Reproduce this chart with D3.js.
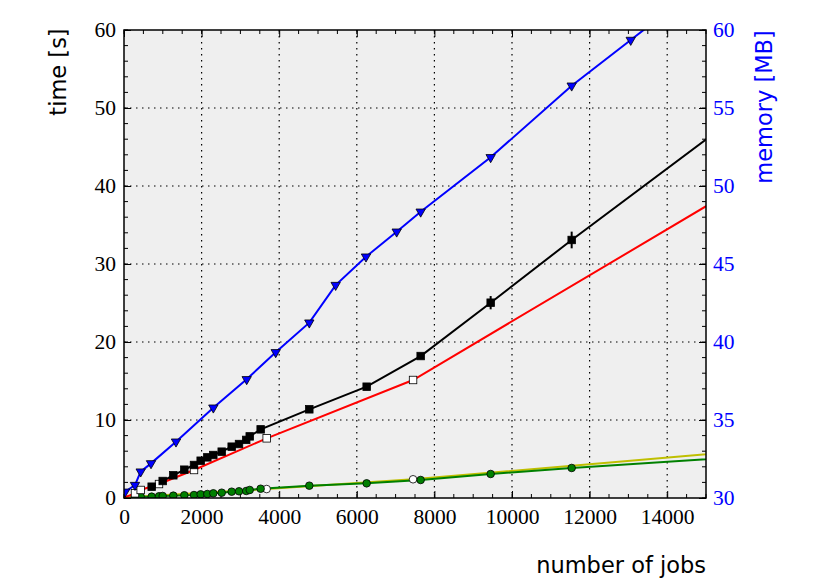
<!DOCTYPE html>
<html>
<head>
<meta charset="utf-8">
<script src="https://cdn.jsdelivr.net/npm/d3@7"></script>
<style>
  body { margin: 0; background: #fff; }
  .tick-label { font-family: "Liberation Serif", "DejaVu Serif", serif; font-size: 21.5px; }
  .axis-title { font-family: "DejaVu Sans", sans-serif; font-size: 22.5px; }
</style>
</head>
<body>
<div id="chart"></div>
<script>
// measured time (black squares)
var measJobs = [713, 997, 1271, 1555, 1804, 1976, 2148, 2302, 2518, 2775, 2964, 3150, 3240, 3522, 4776, 6254, 7646, 9450, 11538, 16000];
var measTime = [1.45, 2.18, 2.91, 3.63, 4.23, 4.78, 5.21, 5.51, 5.94, 6.58, 6.92, 7.45, 7.9, 8.8, 11.37, 14.27, 18.2, 25.04, 33.08, 49.7];
var measErr  = [0, 0, 0, 0, 0, 0, 0, 0, 0, 0, 0, 0, 0, 0, 0.1, 0.15, 0.3, 0.85, 1.07, 0];

// model time (red line, open squares)
var modelJobs = [0, 283, 430, 902, 1804, 3677, 7450, 16000];
var modelTime = [0.05, 0.6, 1.03, 1.79, 3.59, 7.65, 15.13, 40.35];
var modelMark = [false, true, true, true, true, true, true, false];

// small task time (green circles)
var smallJobs = [283, 430, 713, 902, 997, 1271, 1555, 1804, 1976, 2148, 2302, 2518, 2775, 2964, 3150, 3240, 3522, 4776, 6254, 7646, 9450, 11538, 16000];
var smallTime = [0.17, 0.17, 0.17, 0.22, 0.26, 0.3, 0.35, 0.38, 0.47, 0.51, 0.6, 0.68, 0.81, 0.86, 0.9, 1.03, 1.19, 1.58, 1.88, 2.31, 3.08, 3.85, 5.28];

// small task model (yellow line, open circles)
var smallModelJobs = [0, 3677, 7450, 16000];
var smallModelTime = [0.05, 1.15, 2.4, 6.02];
var smallModelMark = [false, true, true, false];

// memory (blue triangles, right axis)
var memJobs = [30, 283, 430, 696, 1340, 2302, 3162, 3910, 4776, 5455, 6237, 7028, 7646, 9450, 11538, 13060, 15000];
var memMB   = [30.4, 30.83, 31.69, 32.22, 33.61, 35.79, 37.61, 39.34, 41.24, 43.65, 45.47, 47.07, 48.35, 51.84, 56.43, 59.36, 63.1];

var xTicks = [0, 2000, 4000, 6000, 8000, 10000, 12000, 14000];
var yTicks = [0, 10, 20, 30, 40, 50, 60];
var memTicks = [30, 35, 40, 45, 50, 55, 60];

var width = 830, height = 587;
var margin = {left: 124, right: 124, top: 30, bottom: 89};
var pw = width - margin.left - margin.right;
var ph = height - margin.top - margin.bottom;

var svg = d3.select('#chart').append('svg')
  .attr('width', width)
  .attr('height', height);

var x = d3.scaleLinear().domain([0, 15000]).range([0, pw]);
var y = d3.scaleLinear().domain([0, 60]).range([ph, 0]);
var y2 = d3.scaleLinear().domain([30, 60]).range([ph, 0]);

var g = svg.append('g').attr('transform', 'translate(' + margin.left + ',' + margin.top + ')');

g.append('defs').append('clipPath').attr('id', 'plotClip')
  .append('rect').attr('width', pw).attr('height', ph);

// background
g.append('rect').attr('width', pw).attr('height', ph).attr('fill', '#efefef');

// grid
var grid = g.append('g').attr('stroke', '#000').attr('stroke-width', 1.2).attr('stroke-dasharray', '1.5,4.5');
grid.selectAll('.gx').data(xTicks.filter(function(d){ return d > 0; }))
  .enter().append('line')
  .attr('x1', function(d){ return x(d); }).attr('x2', function(d){ return x(d); })
  .attr('y1', 0).attr('y2', ph);
grid.selectAll('.gy').data(yTicks.filter(function(d){ return d > 0 && d < 60; }))
  .enter().append('line')
  .attr('y1', function(d){ return y(d); }).attr('y2', function(d){ return y(d); })
  .attr('x1', 0).attr('x2', pw);

// axes, ticks inward on all sides
var minorX = d3.range(0, 15001, 500);
var minorY = d3.range(0, 61, 2);
var axB = d3.axisBottom(x).tickValues(xTicks).tickSize(-7).tickPadding(11).tickFormat(d3.format('d'));
var axT = d3.axisTop(x).tickValues(xTicks).tickSize(-7).tickFormat('');
var axL = d3.axisLeft(y).tickValues(yTicks).tickSize(-7).tickPadding(8);
var axR = d3.axisRight(y2).tickValues(memTicks).tickSize(-7).tickPadding(7);

function styleAxis(sel, color) {
  sel.select('.domain').remove();
  sel.selectAll('.tick line').attr('stroke', '#000').attr('stroke-width', 1);
  sel.selectAll('.tick text').attr('class', 'tick-label').attr('fill', color || '#000');
}

function minor(sel, scale, vals, orient) {
  sel.selectAll('.minor').data(vals).enter().append('line')
    .attr('stroke', '#000').attr('stroke-width', 1)
    .attr('x1', function(d){ return orient === 'h' ? scale(d) : 0; })
    .attr('x2', function(d){ return orient === 'h' ? scale(d) : 0; })
    .attr('y1', function(d){ return orient === 'v' ? scale(d) : 0; })
    .attr('y2', function(d){ return orient === 'v' ? scale(d) : 0; })
    .each(function() {
      var l = d3.select(this);
      if (orient === 'h') l.attr('y2', sel.attr('data-dir') * 4);
      else l.attr('x2', sel.attr('data-dir') * 4);
    });
}

var gB = g.append('g').attr('transform', 'translate(0,' + ph + ')').call(axB);
styleAxis(gB);
gB.selectAll('.tick text').attr('dy', '0.71em');
var gT = g.append('g').call(axT);
styleAxis(gT);
var gL = g.append('g').call(axL);
styleAxis(gL);
var gR = g.append('g').attr('transform', 'translate(' + pw + ',0)').call(axR);
styleAxis(gR, '#0000ff');

var mB = g.append('g').attr('transform', 'translate(0,' + ph + ')').attr('data-dir', -1);
minor(mB, x, minorX, 'h');
var mT = g.append('g').attr('data-dir', 1);
minor(mT, x, minorX, 'h');
var mL = g.append('g').attr('data-dir', 1);
minor(mL, y, minorY, 'v');
var mR = g.append('g').attr('transform', 'translate(' + pw + ',0)').attr('data-dir', -1);
minor(mR, y, minorY, 'v');

// data layers
var plot = g.append('g').attr('clip-path', 'url(#plotClip)');

function zip(xs, ys) {
  return xs.map(function(d, i){ return {x: d, y: ys[i], i: i}; });
}

var lineT = d3.line().x(function(d){ return x(d.x); }).y(function(d){ return y(d.y); });
var lineM = d3.line().x(function(d){ return x(d.x); }).y(function(d){ return y2(d.y); });

var smallModel = zip(smallModelJobs, smallModelTime);
var small = zip(smallJobs, smallTime);
var model = zip(modelJobs, modelTime);
var meas = zip(measJobs, measTime);
var mem = zip(memJobs, memMB);

// yellow model
plot.append('path').datum(smallModel).attr('d', lineT)
  .attr('fill', 'none').attr('stroke', '#bfbf00').attr('stroke-width', 2);
// green
plot.append('path').datum(small).attr('d', lineT)
  .attr('fill', 'none').attr('stroke', '#008000').attr('stroke-width', 2);
// red model
plot.append('path').datum(model).attr('d', lineT)
  .attr('fill', 'none').attr('stroke', '#ff0000').attr('stroke-width', 2);
// black measured
plot.append('path').datum(meas).attr('d', lineT)
  .attr('fill', 'none').attr('stroke', '#000').attr('stroke-width', 2);
// blue memory
plot.append('path').datum(mem).attr('d', lineM)
  .attr('fill', 'none').attr('stroke', '#0000ff').attr('stroke-width', 2);

// error bars
plot.selectAll('.err').data(meas.filter(function(d){ return measErr[d.i] > 0; }))
  .enter().append('line')
  .attr('x1', function(d){ return x(d.x); }).attr('x2', function(d){ return x(d.x); })
  .attr('y1', function(d){ return y(d.y - measErr[d.i]); })
  .attr('y2', function(d){ return y(d.y + measErr[d.i]); })
  .attr('stroke', '#000').attr('stroke-width', 2);

// markers
plot.selectAll('.oc').data(smallModel.filter(function(d){ return smallModelMark[d.i]; }))
  .enter().append('circle')
  .attr('cx', function(d){ return x(d.x); }).attr('cy', function(d){ return y(d.y); })
  .attr('r', 3.8).attr('fill', '#fff').attr('stroke', '#000').attr('stroke-width', 0.8);

plot.selectAll('.gc').data(small)
  .enter().append('circle')
  .attr('cx', function(d){ return x(d.x); }).attr('cy', function(d){ return y(d.y); })
  .attr('r', 3.8).attr('fill', '#008000').attr('stroke', '#000').attr('stroke-width', 0.8);

var sq = 7.5;
plot.selectAll('.os').data(model.filter(function(d){ return modelMark[d.i]; }))
  .enter().append('rect')
  .attr('x', function(d){ return x(d.x) - sq / 2; }).attr('y', function(d){ return y(d.y) - sq / 2; })
  .attr('width', sq).attr('height', sq)
  .attr('fill', '#fff').attr('stroke', '#000').attr('stroke-width', 0.8);

plot.selectAll('.bs').data(meas)
  .enter().append('rect')
  .attr('x', function(d){ return x(d.x) - sq / 2; }).attr('y', function(d){ return y(d.y) - sq / 2; })
  .attr('width', sq).attr('height', sq)
  .attr('fill', '#000').attr('stroke', '#000').attr('stroke-width', 0.8);

var tri = d3.symbol().type(d3.symbolTriangle).size(38);
plot.selectAll('.tr').data(mem)
  .enter().append('path')
  .attr('d', tri)
  .attr('transform', function(d){ return 'translate(' + x(d.x) + ',' + y2(d.y) + ') rotate(180)'; })
  .attr('fill', '#0000ff').attr('stroke', '#000').attr('stroke-width', 0.8);

// frame
g.append('rect').attr('width', pw).attr('height', ph)
  .attr('fill', 'none').attr('stroke', '#000').attr('stroke-width', 1.5);

// titles
svg.append('text').attr('class', 'axis-title')
  .attr('transform', 'translate(66,72) rotate(-90)')
  .attr('text-anchor', 'middle')
  .text('time [s]');

svg.append('text').attr('class', 'axis-title')
  .attr('transform', 'translate(772,107) rotate(-90)')
  .attr('text-anchor', 'middle')
  .attr('fill', '#0000ff')
  .text('memory [MB]');

svg.append('text').attr('class', 'axis-title')
  .attr('x', 706).attr('y', 573)
  .attr('text-anchor', 'end')
  .text('number of jobs');
</script>
</body>
</html>
